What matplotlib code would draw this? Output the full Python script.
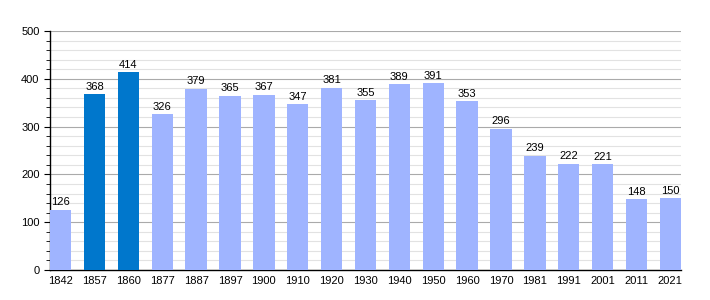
import numpy as np
import matplotlib
matplotlib.use("Agg")
import matplotlib.pyplot as plt
from matplotlib.ticker import MultipleLocator

plt.rcParams['font.family'] = ['Liberation Sans', 'DejaVu Sans']

years = ["1842", "1857", "1860", "1877", "1887", "1897", "1900", "1910", "1920", "1930",
         "1940", "1950", "1960", "1970", "1981", "1991", "2001", "2011", "2021"]
population = [126, 368, 414, 326, 379, 365, 367, 347, 381, 355,
              389, 391, 353, 296, 239, 222, 221, 148, 150]
highlighted = ["1857", "1860"]

light = "#9fb4ff"
dark = "#0077cc"
colors = [dark if y in highlighted else light for y in years]

fig = plt.figure(figsize=(7.1, 3.0), dpi=100)
ax = fig.add_axes([50/710, 30/300, 631/710, 239/300])

x = np.arange(len(years))
w = 0.63
ax.bar(x, population, width=w, color=colors, zorder=3)
for xi, v in zip(x, population):
    ax.text(xi, v + 5, str(v), ha="center", va="bottom", fontsize=8, zorder=4)

ax.set_xlim(-w/2, len(years) - 1 + w/2)
ax.set_ylim(0, 500)
ax.set_xticks(x)
ax.set_xticklabels(years, fontsize=8)
ax.yaxis.set_major_locator(MultipleLocator(100))
ax.yaxis.set_minor_locator(MultipleLocator(20))
ax.tick_params(axis="y", labelsize=8, length=4, direction="out")
ax.tick_params(axis="y", which="minor", length=3)
ax.tick_params(axis="x", length=0, pad=4)
ax.grid(axis="y", which="major", color="#aaaaaa", linewidth=0.8, zorder=0)
ax.grid(axis="y", which="minor", color="#e2e2e2", linewidth=0.8, zorder=0)
for s in ["top", "right"]:
    ax.spines[s].set_visible(False)
ax.spines["left"].set_linewidth(1)
ax.spines["bottom"].set_linewidth(1)

fig.savefig("out.png", dpi=100)
